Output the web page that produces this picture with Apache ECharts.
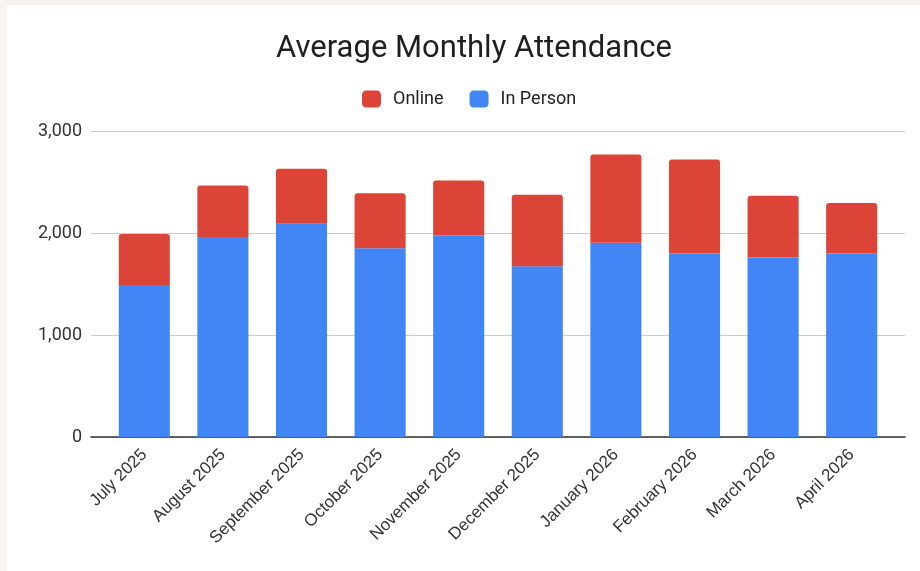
<!DOCTYPE html>
<html><head><meta charset="utf-8">
<script src="https://cdn.jsdelivr.net/npm/echarts@6/dist/echarts.min.js"></script>
<style>
html,body{margin:0;padding:0;background:#f6f3f1;}
#wrap{position:absolute;left:7px;top:5px;width:913px;height:566px;background:#fff;}
#chart{position:absolute;left:-7px;top:-5px;width:920px;height:571px;}
</style></head>
<body><div id="wrap"><div id="chart"></div></div>
<script>
const categories = ['July 2025','August 2025','September 2025','October 2025','November 2025','December 2025','January 2026','February 2026','March 2026','April 2026'];
const inPerson = [1490, 1960, 2090, 1850, 1975, 1675, 1905, 1800, 1760, 1800];
const online = [500, 505, 540, 540, 540, 700, 865, 920, 605, 495];
const yTicks = [0, 1000, 2000, 3000];

const chart = echarts.init(document.getElementById('chart'), null, {renderer:'canvas'});
chart.setOption({
  backgroundColor: 'transparent',
  title: {
    text: 'Average Monthly Attendance',
    left: 271, top: 29,
    textStyle: {fontFamily: 'Roboto', fontSize: 31, fontWeight: 'normal', color: '#1f1f1f'}
  },
  legend: {
    top: 85, left: 357,
    itemWidth: 19, itemHeight: 17, itemGap: 26,
    icon: 'roundRect',
    data: ['Online', 'In Person'],
    textStyle: {fontFamily: 'Roboto', fontSize: 18, color: '#222', padding: [0,0,0,7]}
  },
  grid: [
    {left: 91, right: 15, top: 131, bottom: 134, containLabel: false},
    {left: 105, right: 29, top: 131, bottom: 134, containLabel: false}
  ],
  xAxis: [
    {type: 'value', gridIndex: 0, min: 0, max: 1,
      axisLine: {show: true, onZero: false, lineStyle: {color: '#333', width: 1.5}},
      axisTick: {show: false}, axisLabel: {show: false}, splitLine: {show: false}},
    {type: 'category', gridIndex: 1, data: categories,
      axisLine: {show: false},
      axisTick: {show: false},
      axisLabel: {rotate: 45, interval: 0, margin: 15, fontFamily: 'Liberation Sans', fontSize: 17, color: '#333'}}
  ],
  yAxis: [
    {type: 'value', gridIndex: 0, min: 0, max: 3000, interval: 1000,
      axisLine: {show: false}, axisTick: {show: false},
      splitLine: {lineStyle: {color: '#cccccc', width: 1}},
      axisLabel: {margin: 9, fontFamily: 'Roboto', fontSize: 18, color: '#333',
        formatter: v => yTicks.includes(v) ? v.toLocaleString('en-US') : ''}},
    {type: 'value', gridIndex: 1, min: 0, max: 3000, interval: 1000,
      show: false, splitLine: {show: false}}
  ],
  series: [
    {name: 'In Person', type: 'bar', stack: 'a', xAxisIndex: 1, yAxisIndex: 1, data: inPerson, barWidth: '65%',
      itemStyle: {color: '#4285f4'}},
    {name: 'Online', type: 'bar', stack: 'a', xAxisIndex: 1, yAxisIndex: 1, data: online, barWidth: '65%',
      itemStyle: {color: '#db4437', borderRadius: [3,3,0,0]}}
  ]
});
</script></body></html>
